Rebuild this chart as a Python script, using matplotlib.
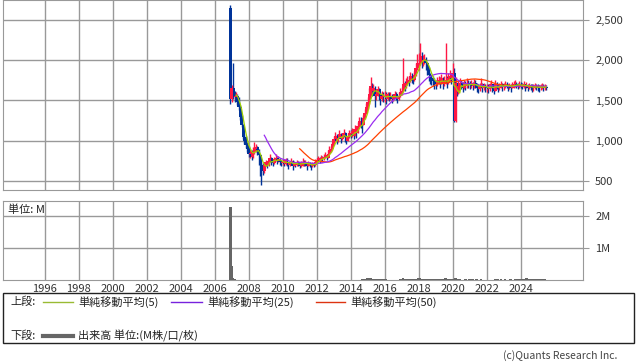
import numpy as np
import pandas as pd
import matplotlib
matplotlib.use("Agg")
from matplotlib import pyplot as plt
from matplotlib.lines import Line2D
from matplotlib.patches import Rectangle

plt.rcParams['font.family'] = ['Noto Sans CJK JP', 'DejaVu Sans']

# monthly data, Dec 2006 .. Jul 2025
start = '2006-12-01'
first_open = 2650

close = [1520,
         1650, 1560, 1540, 1560, 1480, 1420, 1300, 1200, 1050, 1000, 950, 900,
         840, 850, 800, 860, 900, 920, 880, 820, 700, 680, 620, 700,
         730, 700, 750, 780, 740, 720, 770, 790, 750, 770, 740, 720,
         740, 710, 760, 730, 700, 720, 750, 690, 720, 700, 730, 710,
         690, 720, 740, 710, 730, 690, 720, 700, 680, 710, 700, 740,
         760, 780, 750, 790, 770, 800, 820, 790, 840, 880, 900, 960,
         1020, 1060, 1000, 1040, 1080, 1020, 1060, 1100, 1050, 1000, 1060, 1090,
         1080, 1120, 1060, 1150, 1100, 1180, 1250, 1220, 1200, 1280, 1350, 1420,
         1480, 1580, 1680, 1620, 1650, 1560, 1580, 1640, 1580, 1520, 1560, 1540,
         1560, 1520, 1580, 1540, 1560, 1520, 1540, 1580, 1550, 1520, 1560, 1600,
         1620, 1700, 1680, 1720, 1760, 1740, 1800, 1780, 1760, 1820, 1900, 1960,
         1960, 2050, 1980, 2000, 2020, 1960, 1900, 1820, 1780, 1760, 1740, 1720,
         1700, 1740, 1760, 1720, 1780, 1700, 1740, 1760, 1720, 1780, 1800, 1760,
         1840, 1240, 1720, 1600, 1680, 1720, 1700, 1660, 1700, 1680, 1720, 1700,
         1690, 1700, 1680, 1720, 1700, 1660, 1640, 1680, 1700, 1660, 1680, 1650,
         1660, 1640, 1680, 1700, 1650, 1620, 1700, 1690, 1660, 1680, 1700, 1670,
         1680, 1700, 1690, 1670, 1680, 1660, 1690, 1700, 1710, 1690, 1680, 1700,
         1690, 1680, 1700, 1670, 1690, 1660, 1680, 1670, 1650, 1660, 1680, 1670,
         1660, 1650, 1670, 1680, 1660, 1670, 1660]

high = [2680,
        1690, 1970, 1620, 1600, 1580, 1540, 1450, 1320, 1210, 1080, 1060, 980,
        930, 900, 880, 920, 980, 960, 940, 900, 840, 740, 720, 740,
        760, 750, 790, 840, 800, 760, 800, 830, 800, 810, 780, 760,
        770, 760, 790, 780, 740, 750, 790, 760, 750, 740, 760, 750,
        730, 750, 790, 760, 760, 740, 750, 740, 720, 740, 740, 770,
        790, 810, 800, 820, 810, 840, 860, 840, 880, 930, 940, 990,
        1060, 1110, 1080, 1070, 1130, 1100, 1090, 1140, 1110, 1060, 1100, 1130,
        1130, 1160, 1140, 1200, 1170, 1230, 1300, 1290, 1250, 1320, 1400, 1470,
        1540, 1660, 1790, 1720, 1700, 1680, 1640, 1680, 1660, 1600, 1620, 1600,
        1620, 1600, 1610, 1600, 1600, 1580, 1580, 1620, 1600, 1570, 1610, 1660,
        1670, 2030, 1740, 1780, 1810, 1800, 1850, 1840, 1820, 1870, 1960, 2080,
        2090, 2215, 2100, 2060, 2080, 2040, 1980, 1920, 1840, 1820, 1800, 1780,
        1760, 1790, 1810, 1790, 1830, 1790, 1800, 2215, 1800, 1840, 1880, 1820,
        1970, 1900, 1790, 1720, 1740, 1780, 1760, 1730, 1750, 1740, 1780, 1760,
        1740, 1750, 1730, 1770, 1760, 1720, 1700, 1720, 1780, 1720, 1720, 1700,
        1710, 1700, 1720, 1760, 1710, 1680, 1750, 1730, 1710, 1720, 1740, 1720,
        1720, 1740, 1730, 1710, 1720, 1700, 1730, 1740, 1760, 1730, 1720, 1740,
        1730, 1720, 1740, 1710, 1730, 1700, 1720, 1710, 1700, 1700, 1720, 1710,
        1700, 1690, 1710, 1720, 1700, 1700, 1690]

low = [1460,
       1480, 1520, 1480, 1500, 1440, 1380, 1260, 1170, 1020, 960, 910, 860,
       800, 790, 760, 780, 840, 860, 820, 700, 560, 450, 580, 600,
       680, 660, 690, 730, 700, 680, 710, 750, 710, 730, 700, 690,
       700, 680, 700, 690, 650, 680, 700, 640, 680, 670, 690, 680,
       660, 670, 680, 680, 690, 640, 680, 670, 640, 670, 670, 690,
       720, 740, 720, 740, 740, 760, 780, 760, 790, 830, 860, 890,
       950, 1000, 960, 990, 1030, 970, 1010, 1050, 990, 960, 1000, 1040,
       1040, 1050, 1020, 1060, 1040, 1090, 1170, 1160, 1100, 1190, 1270, 1330,
       1400, 1460, 1560, 1560, 1580, 1420, 1500, 1560, 1500, 1440, 1490, 1480,
       1480, 1460, 1500, 1490, 1510, 1470, 1490, 1530, 1500, 1470, 1500, 1540,
       1570, 1600, 1620, 1660, 1690, 1680, 1730, 1720, 1700, 1740, 1800, 1880,
       1880, 1940, 1900, 1930, 1950, 1880, 1820, 1740, 1700, 1690, 1680, 1640,
       1640, 1680, 1700, 1660, 1700, 1640, 1680, 1700, 1660, 1700, 1740, 1700,
       1740, 1233, 1233, 1560, 1580, 1660, 1640, 1610, 1640, 1630, 1660, 1650,
       1640, 1650, 1630, 1660, 1650, 1610, 1590, 1620, 1650, 1610, 1630, 1600,
       1610, 1590, 1620, 1650, 1600, 1580, 1620, 1640, 1610, 1630, 1650, 1620,
       1630, 1660, 1650, 1620, 1640, 1610, 1650, 1660, 1670, 1650, 1640, 1660,
       1650, 1640, 1660, 1620, 1650, 1620, 1640, 1630, 1600, 1620, 1640, 1630,
       1620, 1600, 1630, 1640, 1620, 1630, 1630]

# volume, millions of shares
volume = [2.28,
          0.45, 0.05, 0.02, 0.01, 0.01, 0.01, 0.01, 0.01, 0.01, 0.01, 0.01, 0.01,
          0.01, 0.01, 0.01, 0.01, 0.01, 0.01, 0.01, 0.01, 0.01, 0.01, 0.01, 0.01,
          0.005, 0.005, 0.005, 0.005, 0.005, 0.005, 0.005, 0.005, 0.005, 0.005, 0.005, 0.005,
          0.005, 0.005, 0.005, 0.005, 0.005, 0.005, 0.005, 0.005, 0.005, 0.005, 0.005, 0.005,
          0.005, 0.005, 0.005, 0.005, 0.005, 0.005, 0.005, 0.005, 0.005, 0.005, 0.005, 0.005,
          0.005, 0.005, 0.005, 0.005, 0.005, 0.005, 0.005, 0.005, 0.005, 0.005, 0.005, 0.005,
          0.005, 0.005, 0.005, 0.005, 0.005, 0.005, 0.005, 0.005, 0.005, 0.005, 0.005, 0.005,
          0.005, 0.005, 0.005, 0.005, 0.005, 0.005, 0.005, 0.005, 0.03, 0.04, 0.02, 0.03,
          0.05, 0.04, 0.06, 0.03, 0.02, 0.04, 0.03, 0.02, 0.04, 0.03, 0.02, 0.03,
          0.04, 0.02, 0.01, 0.01, 0.01, 0.01, 0.01, 0.01, 0.01, 0.01, 0.01, 0.02,
          0.03, 0.05, 0.02, 0.03, 0.02, 0.04, 0.03, 0.02, 0.03, 0.04, 0.03, 0.04,
          0.05, 0.06, 0.03, 0.02, 0.04, 0.03, 0.02, 0.03, 0.02, 0.03, 0.02, 0.02,
          0.03, 0.02, 0.03, 0.02, 0.03, 0.02, 0.02, 0.05, 0.02, 0.03, 0.02, 0.03,
          0.04, 0.03, 0.05, 0.03, 0.02, 0.02, 0.01, 0.01, 0.01, 0.02, 0.01, 0.01,
          0.02, 0.01, 0.02, 0.01, 0.01, 0.02, 0.01, 0.01, 0.02, 0.01, 0.01, 0.01,
          0.01, 0.01, 0.01, 0.01, 0.01, 0.01, 0.02, 0.03, 0.02, 0.01, 0.02, 0.01,
          0.01, 0.02, 0.01, 0.01, 0.01, 0.02, 0.01, 0.01, 0.02, 0.03, 0.02, 0.04,
          0.03, 0.02, 0.04, 0.03, 0.05, 0.04, 0.03, 0.04, 0.03, 0.02, 0.03, 0.02,
          0.03, 0.02, 0.03, 0.02, 0.01, 0.02, 0.01]

year_ticks = list(range(1996, 2025, 2))
price_ticks = [500, 1000, 1500, 2000, 2500]
price_labels = ['500', '1,000', '1,500', '2,000', '2,500']

RED = '#ff1744'
BLUE = '#003399'
GRID = '#999999'

dates = pd.date_range(start, periods=len(close), freq='MS')
x = np.asarray(dates.year + (dates.month - 1) / 12.0)
c = pd.Series(close, dtype=float)
o = c.shift(1).fillna(first_open)
ma5 = c.rolling(5).mean()
ma25 = c.rolling(25).mean()
ma50 = c.rolling(50).mean()

fig = plt.figure(figsize=(6.38, 3.62), dpi=100)
W, H = 638, 362
ax = fig.add_axes([3 / W, 1 - 190 / H, 579.7 / W, 190 / H])
axv = fig.add_axes([3 / W, 1 - 280 / H, 579.7 / W, 79 / H])

xlim = (1996 - 41.7 / 17, 1996 + 538 / 17)
for a in (ax, axv):
    a.set_xlim(*xlim)
    a.set_xticks(year_ticks)
    a.grid(True, color=GRID, lw=1)
    a.set_axisbelow(True)
    for s in a.spines.values():
        s.set_color(GRID)
    a.yaxis.tick_right()
    a.tick_params(axis='y', length=4, color=GRID, labelsize=8, labelcolor='#333333', pad=5)
    a.tick_params(axis='x', length=0, labelsize=8, labelcolor='#333333', pad=3)

# candles: down (blue) first, up (red) on top
bw = 3.0 / 17
hi = np.array(high, dtype=float)
lo = np.array(low, dtype=float)
body = (c - o).abs().clip(lower=8).values
bot = np.minimum(c, o).values
for mask, col in [((c < o).values, BLUE), ((c >= o).values, RED)]:
    ax.vlines(x[mask], lo[mask], hi[mask], colors=col, lw=1.0, zorder=2)
    ax.bar(x[mask], body[mask], bottom=bot[mask], width=bw, color=col, lw=0, zorder=3)
ax.plot(x, ma50, color='#ff4000', lw=0.9, zorder=4)
ax.plot(x, ma25, color='#9a2cf0', lw=0.9, zorder=4)
ax.plot(x, ma5, color='#a0d000', lw=0.9, zorder=5)
ax.set_ylim(388, 2748)
ax.set_yticks(price_ticks)
ax.set_yticklabels(price_labels)
ax.tick_params(axis='x', labelbottom=False)

# volume
axv.bar(x, volume, width=2.6 / 17, color='#666666', lw=0, zorder=3)
axv.set_ylim(0, 79 / 32)
axv.set_yticks([1, 2])
axv.set_yticklabels(['1M', '2M'])
axv.text(0.009, 0.96, '単位: M', transform=axv.transAxes, fontsize=8,
         va='top', ha='left', color='#222222')

# legend box
fig.patches.append(Rectangle((3 / W, 1 - 343 / H), 631 / W, 50 / H,
                             transform=fig.transFigure, fill=False,
                             edgecolor='#222222', lw=1))
ly1 = 1 - 302 / H
ly2 = 1 - 336 / H
fig.text(10 / W, ly1, '上段:', fontsize=8, va='center', color='#222222')
for x0, x1, col, lab in [(43, 73, '#99bb33', '単純移動平均(5)'),
                         (171, 202, '#7722dd', '単純移動平均(25)'),
                         (316, 345, '#dd3311', '単純移動平均(50)')]:
    fig.add_artist(Line2D([x0 / W, x1 / W], [ly1, ly1], color=col, lw=1,
                          transform=fig.transFigure))
    fig.text((x1 + 5) / W, ly1, lab, fontsize=8, va='center', color='#222222')
fig.text(10 / W, ly2, '下段:', fontsize=8, va='center', color='#222222')
fig.add_artist(Line2D([43 / W, 73 / W], [ly2, ly2], color='#666666', lw=3,
                      transform=fig.transFigure))
fig.text(78 / W, ly2, '出来高 単位:(M株/口/枚)', fontsize=8, va='center', color='#222222')
fig.text(617 / W, 1 - 356 / H, '(c)Quants Research Inc.', fontsize=7.5,
         ha='right', va='center', color='#444444')

fig.savefig('out.png', dpi=100)
